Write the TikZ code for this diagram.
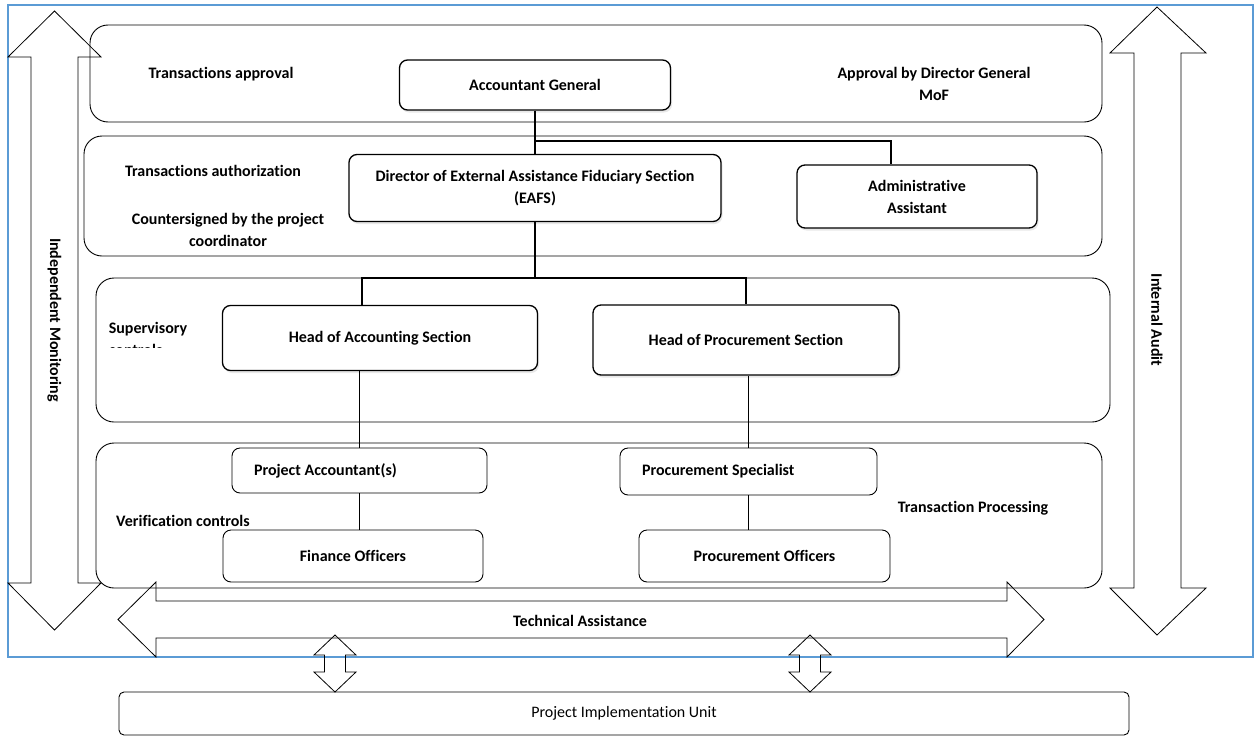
\documentclass[tikz,border=0pt]{standalone}
\usepackage{fontspec}
\setmainfont{Carlito}[Ligatures={CommonOff}]
\usetikzlibrary{positioning,shadows,calc}
\definecolor{frameblue}{RGB}{91,155,213}

\begin{document}
\begin{tikzpicture}[x=1pt, y=-1pt,
    base/.style={rectangle, draw=black, fill=white, rounded corners=8pt, align=center, font=\fontsize{16}{22}\selectfont\bfseries},
    box/.style={base, line width=1.3pt, drop shadow={opacity=0.18, shadow xshift=1.5pt, shadow yshift=-2.5pt}},
    plainbox/.style={base, line width=0.9pt},
    leftbox/.style={plainbox, align=flush left, inner xsep=22pt},
    band/.style={draw=black, line width=0.9pt, rounded corners=18pt},
    bigarrow/.style={draw=black, line width=0.8pt},
    link/.style={draw=black, line width=1.2pt},
    txt/.style={align=center, font=\fontsize{16}{22}\selectfont\bfseries},
    framebox/.style={draw=frameblue, line width=1.5pt}
  ]
  \useasboundingbox (0,0) rectangle (1257,736);

  % outer frame and the four control bands
  \draw[framebox] (8,5) rectangle (1253,657);
  \draw[band] (90,25) rectangle (1102,122);
  \draw[band] (84,136) rectangle (1102,256);
  \draw[band] (96,278) rectangle (1110,422);
  \draw[band] (96,443) rectangle (1102,588);

  % big double arrows
  \draw[bigarrow] (54.5,11) -- (101,57) -- (78,57) -- (78,583) -- (101,583) -- (54.5,630)
    -- (8,583) -- (31,583) -- (31,57) -- (8,57) -- cycle;
  \draw[bigarrow] (1157,7) -- (1206,53) -- (1181,53) -- (1181,588) -- (1206,588) -- (1157,635)
    -- (1110,588) -- (1134,588) -- (1134,53) -- (1110,53) -- cycle;
  \draw[bigarrow] (118,619.5) -- (156,582) -- (156,601) -- (1007,601) -- (1007,582) -- (1044,619.5)
    -- (1007,657) -- (1007,638) -- (156,638) -- (156,657) -- cycle;
  \foreach \cx in {335,810}
    \draw[bigarrow] (\cx,635) -- ++(21,20) -- ++(-10.5,0) -- ++(0,17) -- ++(10.5,0) -- (\cx,692)
      -- ++(-21,-20) -- ++(10.5,0) -- ++(0,-17) -- ++(-10.5,0) -- cycle;

  % organisation boxes
  \node[box, minimum width=271pt, minimum height=50pt] (ag) at (535,85) {Accountant General};
  \node[box, minimum width=372pt, minimum height=67pt] (eafs) at (535,188) {Director of External Assistance Fiduciary Section\\(EAFS)};
  \node[box, minimum width=240pt, minimum height=63pt] (admin) at (917,196.5) {Administrative\\Assistant};
  \node[box, minimum width=315pt, minimum height=65pt] (hacc) at (380,338) {Head of Accounting Section};
  \node[box, minimum width=306pt, minimum height=70pt] (hproc) at (746,340) {Head of Procurement Section};
  \node[leftbox, text width=211pt, minimum height=45pt] (pacc) at (359.5,470.5) {Project Accountant(s)};
  \node[leftbox, text width=213pt, minimum height=47pt] (pspec) at (748.5,471.5) {Procurement Specialist};
  \node[plainbox, minimum width=260pt, minimum height=52pt] (fin) at (353,556) {Finance Officers};
  \node[plainbox, minimum width=251pt, minimum height=52pt] (poff) at (764.5,556) {Procurement Officers};
  \node[draw=black, line width=0.9pt, rounded corners=5pt, minimum width=1010pt, minimum height=43pt,
        font=\fontsize{16}{22}\selectfont] (piu) at (624,713.5) {Project Implementation Unit};

  % reporting lines
  \coordinate (jA) at (535,141);
  \coordinate (jB) at (535,278);
  \draw[link] (ag.south) -- (eafs.north);
  \draw[link] (jA) -| ([xshift=-26pt]admin.north);
  \draw[link] (eafs.south) -- (jB);
  \draw[link] ([xshift=-18pt]hacc.north) |- (jB) -| (hproc.north);
  \draw[link] (pacc.north) -- (pacc.north |- hacc.south);
  \draw[link] (pspec.north) -- (pspec.north |- hproc.south);
  \draw[link] (pacc.south) -- (pacc.south |- fin.north);
  \draw[link] (pspec.south) -- (pspec.south |- poff.north);

  % band texts
  \node[txt] (tappr) at (221,74) {Transactions approval};
  \node[txt] (dgmof) at (934,84) {Approval by Director General\\MoF};
  \node[txt] (tauth) at (213,171) {Transactions authorization};
  \node[txt] (csign) at (228,230) {Countersigned by the project\\coordinator};
  \begin{scope}
    \clip (100,310) rectangle (215,347);
    \node[txt, align=left] (supv) at (148,339) {Supervisory\\controls};
  \end{scope}
  \node[txt] (verif) at (183,521) {Verification controls};
  \node[txt] (tproc) at (973,508) {Transaction Processing};
  \node[txt] (techa) at (580,621) {Technical Assistance};
  \node[txt, rotate=-90] (imon) at (54.5,320) {Independent Monitoring};
  \node[txt, rotate=-90] (iaud) at (1157,320) {Internal Audit};
\end{tikzpicture}
\end{document}
